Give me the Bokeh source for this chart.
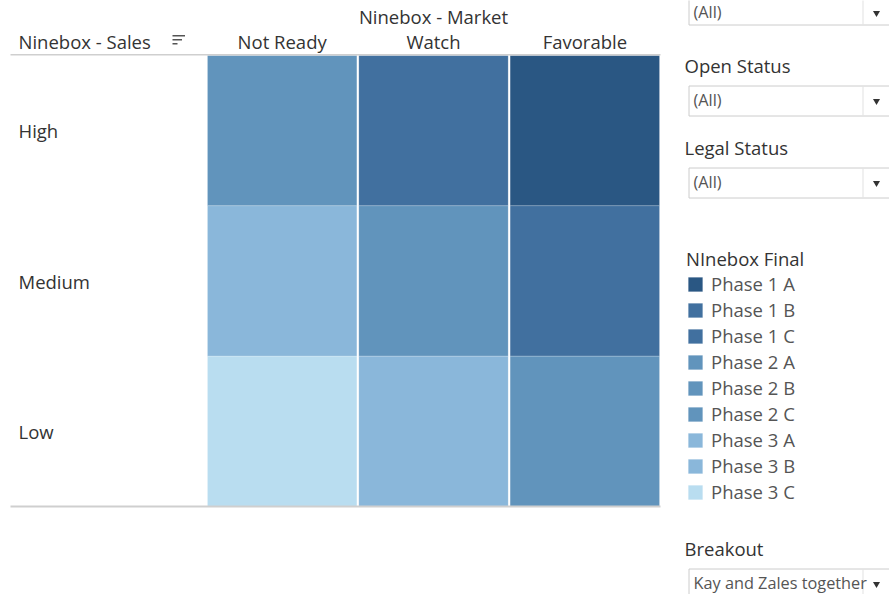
from bokeh.plotting import figure
from bokeh.models import Range1d, Legend, LegendItem, ColumnDataSource
from bokeh.core.properties import value
from bokeh.embed import file_html
from bokeh.resources import INLINE

# ---- data ----
market = ["Not Ready", "Watch", "Favorable"]
sales = ["High", "Medium", "Low"]
cell_market = ["Not Ready", "Watch", "Favorable",
               "Not Ready", "Watch", "Favorable",
               "Not Ready", "Watch", "Favorable"]
cell_sales = ["High", "High", "High",
              "Medium", "Medium", "Medium",
              "Low", "Low", "Low"]
cell_phase = ["Phase 2 A", "Phase 1 B", "Phase 1 A",
              "Phase 3 A", "Phase 2 B", "Phase 1 C",
              "Phase 3 C", "Phase 3 B", "Phase 2 C"]
phases = ["Phase 1 A", "Phase 1 B", "Phase 1 C",
          "Phase 2 A", "Phase 2 B", "Phase 2 C",
          "Phase 3 A", "Phase 3 B", "Phase 3 C"]
phase_colors = ["#2a5783", "#41709f", "#41709f",
                "#6194bc", "#6194bc", "#6194bc",
                "#8ab7da", "#8ab7da", "#b9ddf0"]
filter_titles = ["Open Status", "Legal Status"]
filter_value = "(All)"
breakout_title = "Breakout"
breakout_value = "Kay and Zales together"
row_header = "Ninebox - Sales"
col_header = "Ninebox - Market"
legend_title = "NInebox Final"

FONT = "Open Sans"
FS = "18.5px"
W, H = 889, 594
# heatmap block placement on the canvas (pixels)
HL, HT, HR, HB = 206, 55, 660, 506
CW = (HR - HL) / len(market)   # px per column unit
RH = (HB - HT) / len(sales)    # px per row unit


def px(rx):   # canvas x -> data units
    return (rx - HL) / CW


def py(ry):   # canvas y -> data units
    return (HB - ry) / RH


p = figure(width=W, height=H, x_range=Range1d(px(0), px(W)), y_range=Range1d(py(H), py(0)),
           min_border=0, toolbar_location=None, output_backend="svg")
p.axis.visible = False
p.grid.visible = False
p.outline_line_color = None
p.background_fill_color = "white"
p.border_fill_color = "white"

color_of = dict(zip(phases, phase_colors))
src = ColumnDataSource(dict(
    x=[market.index(m) + 0.5 for m in cell_market],
    y=[len(sales) - sales.index(s) - 0.5 for s in cell_sales],
    phase=cell_phase,
    color=[color_of[ph] for ph in cell_phase]))

r = p.rect(x="x", y="y", width=1 - 2 / CW, height=1, source=src,
           fill_color="color", line_color="white", line_alpha=0.15, line_width=1)


def text(xs, ys, texts, size=FS, color="#333333", align="left", font=FONT):
    p.text(x=xs, y=ys, text=texts, text_baseline="middle", text_align=align,
           text_font=value(font), text_font_size=value(size), text_color=color)


def quad(l, t, rr, b, fill="white", line=None):
    p.quad(left=px(l), right=px(rr), top=py(t), bottom=py(b), fill_color=fill,
           line_color=line, line_width=1)


# header / footer lines
quad(10, 53.5, HR, 55, fill="#cfcfcf")
quad(10, 505, HR, 507, fill="#cfcfcf")

# column headers (one per market category) and their title
text([i + 0.5 for i in range(len(market))], [py(41)] * len(market), market, align="center")
text([len(market) / 2], [py(16)], [col_header], align="center")

# row headers (one per sales category)
text([px(18)] * len(sales), [len(sales) - i - 0.5 for i in range(len(sales))], sales)

# left header + sort icon
text([px(18)], [py(41)], [row_header])
quad(172, 34.5, 184.5, 36, fill="#555555")
quad(172, 38.5, 181.5, 40, fill="#555555")
quad(172, 42.5, 177, 44, fill="#555555")


def dropdown(top, label, text_y=None):
    quad(688.5, top + 0.5, 905, top + 30.5, fill="white", line="#cccccc")
    quad(862, top + 1, 863, top + 30, fill="#e2e2e2")
    ty = top + 14.5 if text_y is None else text_y
    text([px(693)], [py(ty)], [label], size="16.3px", color="#555555")
    p.scatter(x=[px(876)], y=[py(ty + 1)], marker="inverted_triangle", size=7,
              fill_color="#333333", line_color=None)


dropdown(-6, filter_value, text_y=11.5)
text([px(684)], [py(65)], [filter_titles[0]])
dropdown(85, filter_value)
text([px(684)], [py(147)], [filter_titles[1]])
dropdown(167, filter_value)

text([px(684)], [py(548)], [breakout_title])
dropdown(568, breakout_value)

# legend
items = [LegendItem(label=ph, renderers=[r], index=cell_phase.index(ph)) for ph in phases]
legend = Legend(items=items, location=(686, H - 504), title=legend_title,
                title_text_font=FONT, title_text_font_size=FS, title_text_color="#333333",
                title_text_font_style="normal", title_standoff=0,
                label_text_font=FONT, label_text_font_size=FS, label_text_color="#555555",
                glyph_width=18, glyph_height=18, label_standoff=7, label_height=18,
                spacing=1, padding=0, margin=0, background_fill_alpha=0,
                border_line_color=None)
p.add_layout(legend, "center")

open("out.html", "w").write(file_html(p, INLINE))
